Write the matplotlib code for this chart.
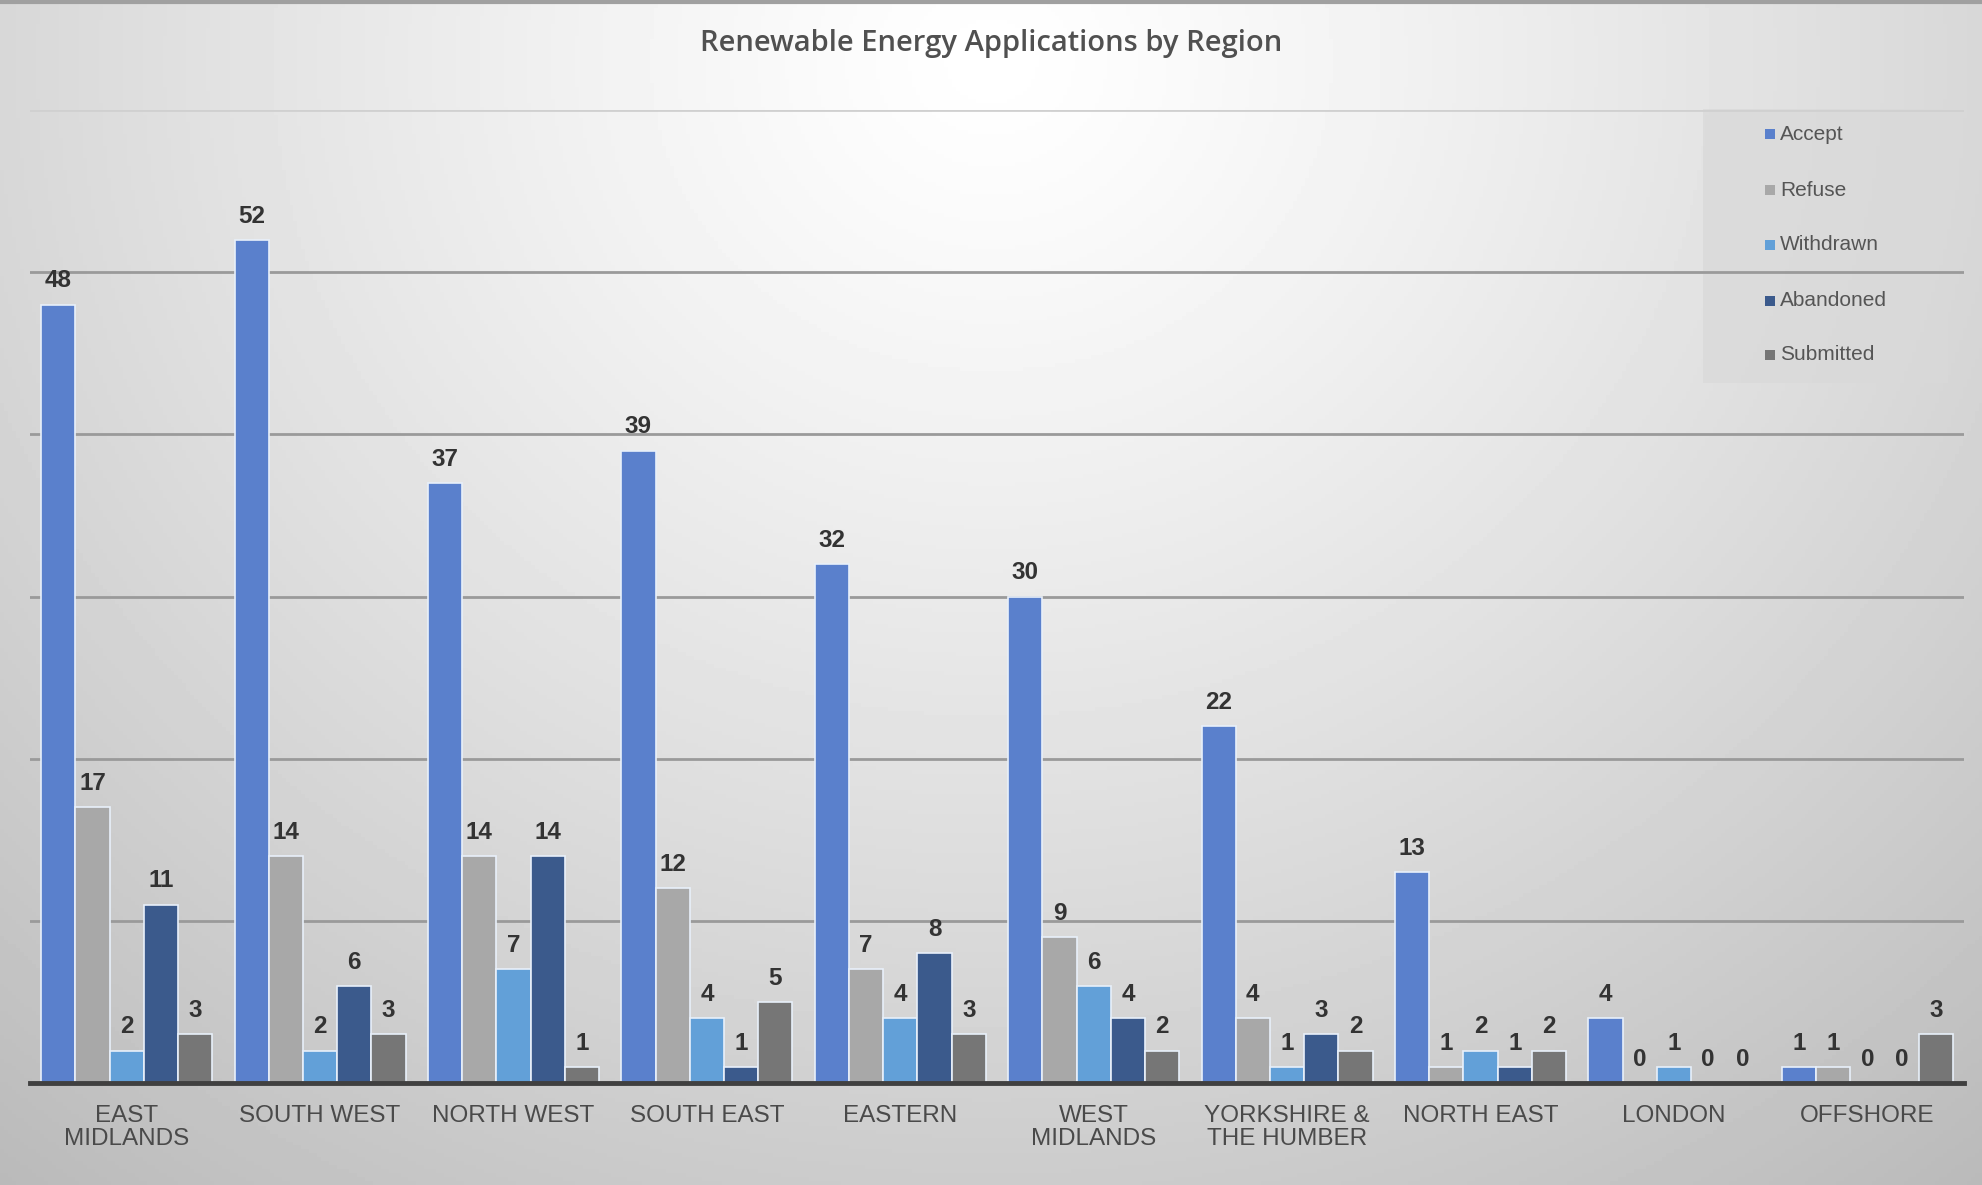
import numpy as np
import matplotlib
matplotlib.use("Agg")
import matplotlib.pyplot as plt
from matplotlib.patches import Rectangle

regions = ["EAST\nMIDLANDS", "SOUTH WEST", "NORTH WEST", "SOUTH EAST", "EASTERN",
           "WEST\nMIDLANDS", "YORKSHIRE &\nTHE HUMBER", "NORTH EAST", "LONDON", "OFFSHORE"]
series_names = ["Accept", "Refuse", "Withdrawn", "Abandoned", "Submitted"]
accept = [48, 52, 37, 39, 32, 30, 22, 13, 4, 1]
refuse = [17, 14, 14, 12, 7, 9, 4, 1, 0, 1]
withdrawn = [2, 2, 7, 4, 4, 6, 1, 2, 1, 0]
abandoned = [11, 6, 14, 1, 8, 4, 3, 1, 0, 0]
submitted = [3, 3, 1, 5, 3, 2, 2, 2, 0, 3]
series_values = [accept, refuse, withdrawn, abandoned, submitted]
colors = ["#5a80cc", "#a8a8a8", "#62a0d8", "#3b5a8c", "#767676"]

W, H = 1983, 1185
fig = plt.figure(figsize=(W / 100, H / 100), dpi=100)

# background radial gradient
bg = fig.add_axes([0, 0, 1, 1])
yy, xx = np.mgrid[0:1:300j, 0:1:500j]
r = np.sqrt(((xx - 0.5) / 0.72) ** 2 + ((yy - 0.05) / 1.1) ** 2)
v = np.clip(1.0 - 0.24 * r ** 1.2, 0, 1)
bg.imshow(v, cmap="gray", vmin=0, vmax=1, extent=[0, 1, 0, 1], origin="upper", aspect="auto")
bg.set_xlim(0, 1); bg.set_ylim(0, 1)
bg.axis("off")
bg.plot([0, 1], [0.998, 0.998], color="#a0a0a0", lw=3)

ax = fig.add_axes([30 / W, 1 - 1083 / H, (1964 - 30) / W, (1083 - 110) / H])
ax.patch.set_alpha(0)
n = len(series_names)
group = 0.885
bw = group / n
x = np.arange(len(regions))
for i, (name, vals, c) in enumerate(zip(series_names, series_values, colors)):
    off = -group / 2 + bw * (i + 0.5)
    ax.bar(x + off, vals, bw, color=c, edgecolor="#e8f0fa", linewidth=1.2, label=name, zorder=3)
    for xi, val in zip(x + off, vals):
        ax.text(xi, val + 0.75, str(val), ha="center", va="bottom", fontsize=17.5,
                fontweight="bold", color="#333333", family="Liberation Sans", zorder=4)

ax.set_xlim(-0.5, len(regions) - 0.5)
ax.set_ylim(0, 60)
gridvals = np.arange(10, 61, 10)
for g in gridvals:
    ax.axhline(g, color="#9a9a9a" if g < 60 else "#d0d0d0", lw=2, zorder=1)
ax.set_yticks([])
ax.tick_params(axis="x", bottom=False, pad=12)
ax.set_xticks(x)
ax.set_xticklabels(regions, fontsize=17.5, color="#4a4a4a", family="Liberation Sans", linespacing=1.1)
for s in ["top", "right", "left"]:
    ax.spines[s].set_visible(False)
ax.spines["bottom"].set_color("#404040")
ax.spines["bottom"].set_linewidth(3.5)
ax.spines["bottom"].set_zorder(5)

fig.text(0.5, 1 - 43 / H, "Renewable Energy Applications by Region", ha="center", va="center",
         fontsize=21, color="#505050", family="Open Sans", fontweight="semibold", fontstretch="condensed")

# legend box
lx0, ly0, lx1, ly1 = 1703, 109, 1948, 383
bg.add_patch(Rectangle((lx0 / W, 1 - ly1 / H), (lx1 - lx0) / W, (ly1 - ly0) / H,
                       facecolor="#d9d9d9", edgecolor="none", alpha=0.7, zorder=2))
leg_y = [134, 190, 245, 301, 355]
for name, c, yv in zip(series_names, colors, leg_y):
    bg.add_patch(Rectangle((1765 / W, 1 - (yv + 5) / H), 10 / W, 10 / H, facecolor=c, zorder=3))
    bg.text(1780 / W, 1 - yv / H, name, ha="left", va="center", fontsize=15,
            color="#555555", family="Liberation Sans", zorder=3)

fig.savefig("out.png", dpi=100)
